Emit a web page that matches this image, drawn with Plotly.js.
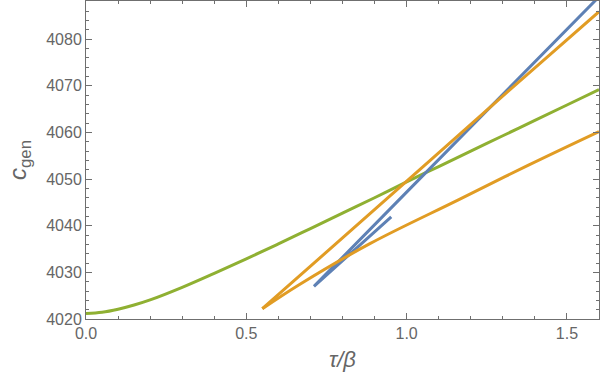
<!DOCTYPE html>
<html>
<head>
<meta charset="utf-8">
<script src="https://cdn.plot.ly/plotly-3.0.1.min.js"></script>
<style>
  html, body { margin: 0; padding: 0; background: #fff; }
  #chart { width: 600px; height: 381px; }
</style>
</head>
<body>
<div id="chart"></div>
<script>
// green curve
var greenX = [0, 0.05, 0.1, 0.15, 0.2, 0.3, 0.4, 0.5, 0.6, 0.7, 0.8, 0.9, 1.0, 1.1, 1.2, 1.3, 1.4, 1.5, 1.6];
var greenY = [4021.2, 4021.45, 4022.1, 4023.0, 4024.1, 4026.8, 4029.8, 4032.9, 4036.1, 4039.4, 4042.7,
              4046.0, 4049.4, 4052.7, 4056.0, 4059.3, 4062.6, 4065.9, 4069.2];

// blue: short branch back to the cusp, then the long branch
var blueX = [0.952, 0.711, 1.0, 1.3, 1.6];
var blueY = [4041.9, 4027.0, 4047.2, 4068.1, 4089.1];

// orange: lower branch (cusp to right edge) and upper branch (cusp to right edge)
var orangeLowX = [0.55, 0.666, 0.884, 1.163, 1.38, 1.6];
var orangeLowY = [4022.2, 4027.4, 4036.1, 4045.6, 4053.0, 4060.2];
var orangeUpX = [0.55, 0.884, 1.07, 1.318, 1.6];
var orangeUpY = [4022.2, 4042.4, 4053.8, 4068.9, 4085.9];

var xTicks = [0, 0.5, 1.0, 1.5];
var yTicks = [4020, 4030, 4040, 4050, 4060, 4070, 4080];

const LINE_WIDTH = 3;
const BLUE = '#5E81B5', ORANGE = '#E19C24', GREEN = '#8FB032';

var green = {
    x: greenX, y: greenY, mode: 'lines',
    line: { color: GREEN, width: LINE_WIDTH, shape: 'spline', smoothing: 1 }
};
var blue = {
    x: blueX, y: blueY, mode: 'lines',
    line: { color: BLUE, width: LINE_WIDTH }
};
var orangeLow = {
    x: orangeLowX, y: orangeLowY, mode: 'lines',
    line: { color: ORANGE, width: LINE_WIDTH, shape: 'spline', smoothing: 1 }
};
var orangeUp = {
    x: orangeUpX, y: orangeUpY, mode: 'lines',
    line: { color: ORANGE, width: LINE_WIDTH }
};

var axisCommon = {
    showgrid: false,
    zeroline: false,
    showline: true,
    linecolor: '#6f6f6f',
    linewidth: 1,
    mirror: 'ticks',
    ticks: 'inside',
    ticklen: 6,
    tickcolor: '#6f6f6f',
    tickfont: { family: 'Liberation Sans, Arial, sans-serif', size: 16, color: '#666' }
};

var layout = {
    width: 600,
    height: 381,
    showlegend: false,
    paper_bgcolor: '#fff',
    plot_bgcolor: '#fff',
    margin: { l: 86, r: 1, t: 1, b: 62 },
    xaxis: Object.assign({}, axisCommon, {
        range: [0, 1.6],
        tickvals: xTicks,
        tickformat: '.1f',
        minor: { dtick: 0.1, ticks: 'inside', ticklen: 3, tickcolor: '#6f6f6f' },
        title: {
            text: '<i>τ/β</i>',
            font: { family: 'Liberation Sans, Arial, sans-serif', size: 22, color: '#666' },
            standoff: 10
        }
    }),
    yaxis: Object.assign({}, axisCommon, {
        range: [4020, 4088.2],
        tickvals: yTicks,
        minor: { dtick: 2, ticks: 'inside', ticklen: 3, tickcolor: '#6f6f6f' },
        title: {
            text: '<i>c</i><sub>gen</sub>',
            font: { family: 'Liberation Sans, Arial, sans-serif', size: 24, color: '#666' },
            standoff: 12
        }
    })
};

Plotly.newPlot('chart', [green, blue, orangeLow, orangeUp], layout, { staticPlot: true });
</script>
</body>
</html>
